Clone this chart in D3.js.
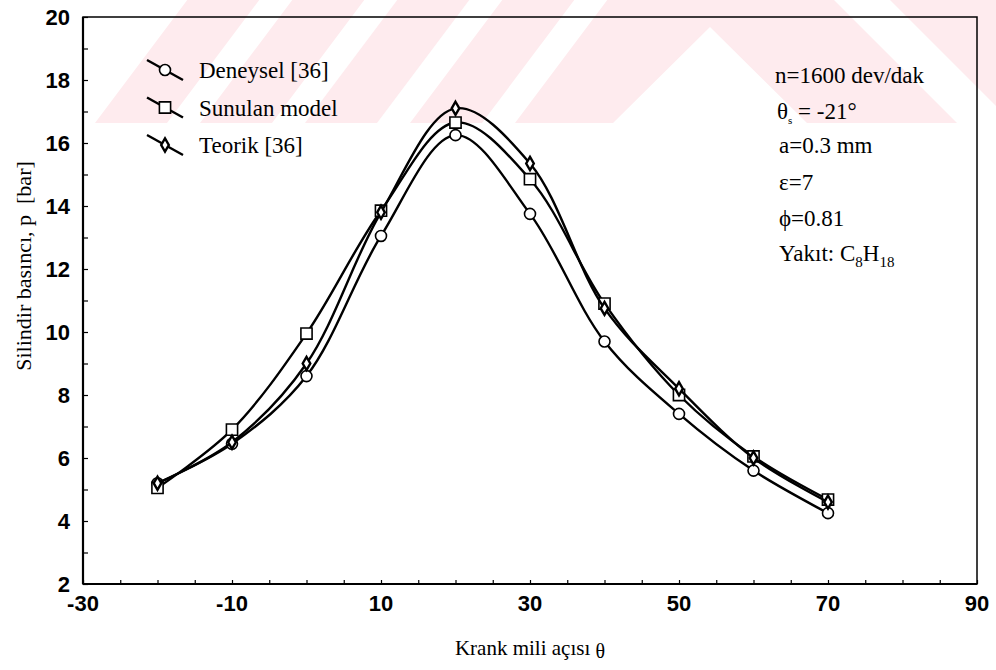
<!DOCTYPE html>
<html>
<head>
<meta charset="utf-8">
<script src="https://cdn.jsdelivr.net/npm/d3@7"></script>
<style>
  body { margin: 0; background: #fff; }
  svg { display: block; }
</style>
</head>
<body>
<svg id="chart" width="996" height="670"></svg>
<script>
// crank angle (deg) and cylinder pressure (bar)
const angles = [-20, -10, 0, 10, 20, 30, 40, 50, 60, 70];
const deneysel = [5.2, 6.45, 8.6, 13.05, 16.25, 13.75, 9.7, 7.4, 5.6, 4.25];
const sunulan = [5.05, 6.9, 9.95, 13.85, 16.65, 14.85, 10.9, 8.0, 6.05, 4.68];
const teorik = [5.2, 6.5, 9.0, 13.8, 17.1, 15.35, 10.75, 8.2, 6.0, 4.6];

const seriesNames = ["Deneysel [36]", "Sunulan model", "Teorik [36]"];
const xTicks = [-30, -10, 10, 30, 50, 70, 90];
const yTicks = [2, 4, 6, 8, 10, 12, 14, 16, 18, 20];

const svg = d3.select("#chart");
const plotL = 83, plotR = 977, plotT = 17, plotB = 584;

const x = d3.scaleLinear().domain([-30, 90]).range([plotL, plotR]);
const y = d3.scaleLinear().domain([2, 20]).range([plotB, plotT]);

// faint watermark in the top band (decoration only)
const wm = svg.append("g").attr("fill", "#feebee");
const band = 123, slant = 0.75;
[95, 200, 305, 410].forEach(x0 => {
    wm.append("polygon").attr("points", [
        [x0, band], [x0 + 72, band], [x0 + 72 + slant * band, 0], [x0 + slant * band, 0]
    ].join(" "));
});
wm.append("polygon").attr("points", [
    [515, band], [515 + slant * band, 0], [834, 0], [957, band], [807, band], [710, 27], [613, band]
].join(" "));
wm.append("polygon").attr("points", [[890, 0], [996, 0], [996, 106]].join(" "));

// frame
svg.append("rect")
    .attr("x", plotL).attr("y", plotT)
    .attr("width", plotR - plotL).attr("height", plotB - plotT)
    .attr("fill", "none").attr("stroke", "#000").attr("stroke-width", 1.5);
svg.append("line").attr("x1", plotL).attr("x2", plotL).attr("y1", plotT).attr("y2", plotB)
    .attr("stroke", "#000").attr("stroke-width", 2.2);
svg.append("line").attr("x1", plotL).attr("x2", plotR).attr("y1", plotB).attr("y2", plotB)
    .attr("stroke", "#000").attr("stroke-width", 2.2);

// axes: ticks pointing inward
const yAxis = d3.axisRight(y).tickValues(d3.range(2, 20.01, 1)).tickSize(5).tickFormat("");
svg.append("g").attr("transform", `translate(${plotL},0)`).call(yAxis)
    .call(g => g.select(".domain").remove())
    .call(g => g.selectAll("line").attr("stroke", "#000").attr("stroke-width", 1.2));
const xAxis = d3.axisTop(x).tickValues(d3.range(-30, 90.01, 5)).tickSize(4).tickFormat("");
svg.append("g").attr("transform", `translate(0,${plotB})`).call(xAxis)
    .call(g => g.select(".domain").remove())
    .call(g => g.selectAll("line").attr("stroke", "#000").attr("stroke-width", 1.2));

// tick labels
const sans = "'Liberation Sans', Arial, sans-serif";
svg.append("g").selectAll("text").data(yTicks).join("text")
    .attr("x", 70).attr("y", d => y(d))
    .attr("dy", "0.36em")
    .attr("text-anchor", "end")
    .attr("font-family", sans)
    .attr("font-weight", "bold").attr("font-size", 22)
    .text(d => d);
svg.append("g").selectAll("text").data(xTicks).join("text")
    .attr("x", d => x(d)).attr("y", 611)
    .attr("text-anchor", "middle")
    .attr("font-family", sans)
    .attr("font-weight", "bold").attr("font-size", 22)
    .text(d => d);

// axis titles
const serif = "'Liberation Serif', 'Times New Roman', 'DejaVu Serif', serif";
const xt = svg.append("text").attr("x", 530).attr("y", 655)
    .attr("text-anchor", "middle").attr("font-family", serif).attr("font-size", 21);
xt.append("tspan").text("Krank mili açısı ");
xt.append("tspan").attr("font-size", 20).attr("dy", 3).text("θ");
svg.append("text")
    .attr("transform", "translate(31,266) rotate(-90)")
    .attr("text-anchor", "middle").attr("font-family", serif).attr("font-size", 22)
    .attr("xml:space", "preserve")
    .text("Silindir basıncı, p  [bar]");

// series
const series = [
    { name: seriesNames[0], values: deneysel, symbol: d3.symbolCircle, size: 95 },
    { name: seriesNames[1], values: sunulan, symbol: d3.symbolSquare, size: 125 },
    { name: seriesNames[2], values: teorik, symbol: d3.symbolDiamond, size: 50 }
];

const line = d3.line()
    .x(d => x(d[0])).y(d => y(d[1]))
    .curve(d3.curveCatmullRom.alpha(0.5));

series.forEach(s => {
    const pts = angles.map((a, i) => [a, s.values[i]]);
    svg.append("path").datum(pts)
        .attr("d", line)
        .attr("fill", "none").attr("stroke", "#000").attr("stroke-width", 2.4);
    svg.append("g").selectAll("path").data(pts).join("path")
        .attr("transform", d => `translate(${x(d[0])},${y(d[1])})`)
        .attr("d", d3.symbol(s.symbol, s.size))
        .attr("fill", "#fff").attr("stroke", "#000")
        .attr("stroke-width", s.symbol === d3.symbolDiamond ? 2.4 : 1.6);
});

// legend
const legend = svg.append("g");
series.forEach((s, i) => {
    const cy = 70 + i * 37.5;
    const g = legend.append("g").attr("transform", `translate(165,${cy})`);
    g.append("line").attr("x1", -18).attr("y1", -10).attr("x2", 18).attr("y2", 10)
        .attr("stroke", "#000").attr("stroke-width", 2.4);
    g.append("path").attr("d", d3.symbol(s.symbol, s.size))
        .attr("fill", "#fff").attr("stroke", "#000")
        .attr("stroke-width", s.symbol === d3.symbolDiamond ? 2.4 : 1.6);
    g.append("text").attr("x", 34).attr("y", 8)
        .attr("font-family", serif).attr("font-size", 23)
        .text(s.name);
});

// operating conditions
const info = svg.append("g").attr("font-family", serif).attr("font-size", 23);
info.append("text").attr("x", 775).attr("y", 83).text("n=1600 dev/dak");
const th = info.append("text").attr("x", 777).attr("y", 119);
th.append("tspan").text("θ");
th.append("tspan").attr("font-size", 11).attr("dy", 5).text("s");
th.append("tspan").attr("dy", -5).text(" = -21°");
info.append("text").attr("x", 779).attr("y", 153).text("a=0.3 mm");
info.append("text").attr("x", 779).attr("y", 190).text("ε=7");
info.append("text").attr("x", 779).attr("y", 226).text("ϕ=0.81");
const fuel = info.append("text").attr("x", 779).attr("y", 261);
fuel.append("tspan").text("Yakıt: C");
fuel.append("tspan").attr("font-size", 15).attr("dy", 6).text("8");
fuel.append("tspan").attr("dy", -6).text("H");
fuel.append("tspan").attr("font-size", 15).attr("dy", 6).text("18");
</script>
</body>
</html>
